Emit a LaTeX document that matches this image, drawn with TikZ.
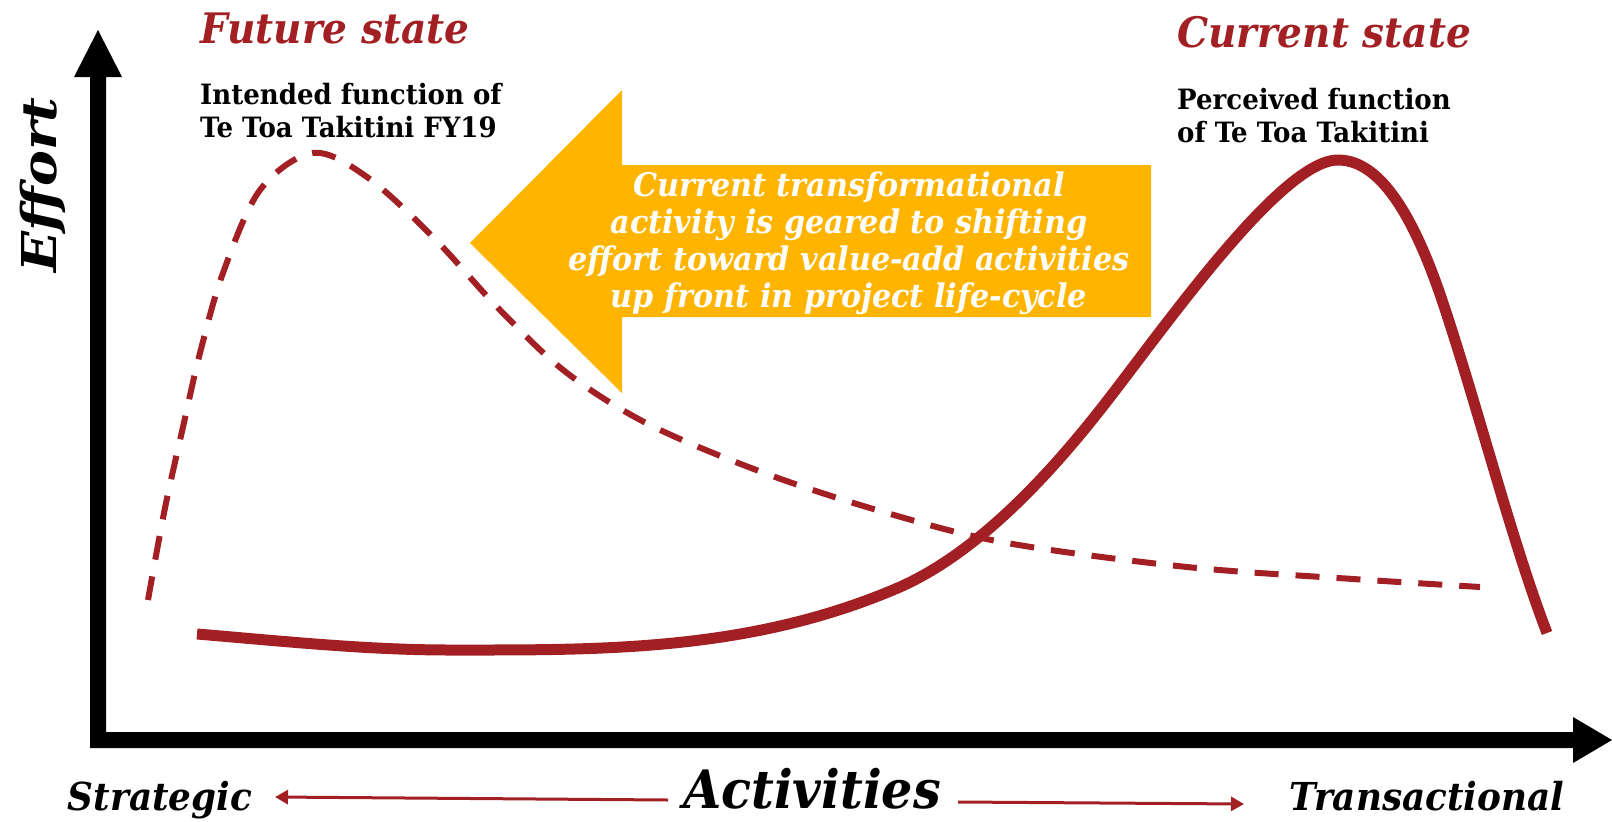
\documentclass[tikz,border=0pt]{standalone}
\usepackage{fontspec}
\setmainfont{DejaVu Serif}[FakeStretch=0.93]
\newfontfamily\widefont{DejaVu Serif}[FakeStretch=1.12]
\usetikzlibrary{arrows.meta}

\definecolor{curvered}{RGB}{162,31,35}
\definecolor{amber}{RGB}{255,181,0}

\tikzset{
  statetitle/.style={anchor=base west, inner sep=0pt, text=curvered,
    font=\fontsize{42}{42}\selectfont\bfseries\itshape},
  caption/.style={anchor=base west, inner sep=0pt, align=left,
    font=\fontsize{28}{33}\selectfont\bfseries},
  axislabel/.style={anchor=base, inner sep=0pt,
    font=\fontsize{38.5}{38.5}\selectfont\bfseries\itshape},
  guide/.style={draw=curvered, line width=3pt,
    -{Triangle[length=13pt,width=14pt]}},
  future/.style={draw=curvered, line width=6pt,
    dash pattern=on 24pt off 17pt},
  current/.style={draw=curvered, line width=11pt, line join=round},
}

\begin{document}
\begin{tikzpicture}[x=1pt, y=-1pt]
  \useasboundingbox (0,0) rectangle (1612,822);

  % axes: one solid block arrow shape for both Effort and Activities
  \fill[black] (90,748) -- (90,77) -- (74,77) -- (98,30) -- (122,77)
    -- (106,77) -- (106,732) -- (1573,732) -- (1573,717) -- (1612,740)
    -- (1573,763) -- (1573,748) -- cycle;

  % shift arrow pointing back toward the strategic end
  \fill[amber] (470,243) -- (622,90) -- (622,165) -- (1151,165)
    -- (1151,317) -- (622,317) -- (622,393) -- cycle;
  \node[align=center, text=white, inner sep=0pt,
        font=\fontsize{32.5}{37}\selectfont\bfseries\itshape]
    (shift) at (849,243)
    {Current transformational\\activity is geared to shifting\\
     effort toward value-add activities\\up front in project life-cycle};

  % intended effort profile
  \draw[future] plot[smooth, tension=0.55] coordinates {
    (148,600) (165,508) (183,427) (200,353) (223,273) (260,190)
    (313,153) (367,177) (433,237) (500,310) (567,373) (650,425)
    (767,474) (887,513) (1007,543) (1187,567) (1353,579) (1480,587)};

  % perceived effort profile
  \draw[current] (197,634) .. controls (281,641) and (366,650) .. (450,650)
    .. controls (600,650) and (750,652) .. (900,587)
    .. controls (967,557) and (1033,495) .. (1100,410)
    .. controls (1160,334) and (1280,160) .. (1338,160)
    .. controls (1373,160) and (1408,198) .. (1443,303)
    .. controls (1478,408) and (1512,542) .. (1547,633);

  % titles and captions
  \node[statetitle] (futuretitle) at (200,43) {Future state};
  \node[caption] (futurecap) at (200,137)
    {Intended function of\\Te Toa Takitini FY19};
  \node[statetitle] (currenttitle) at (1177,47) {Current state};
  \node[caption] (currentcap) at (1177,142)
    {Perceived function\\of Te Toa Takitini};

  % axis labels
  \node[anchor=base, inner sep=0pt, rotate=90,
        font=\fontsize{48}{48}\widefont\bfseries\itshape]
    (effort) at (56,185) {Effort};
  \node[axislabel] (strat) at (160,810) {Strategic};
  \node[axislabel] (trans) at (1427,810) {Transactional};
  \node[anchor=base, inner sep=0pt,
        font=\fontsize{53}{53}\selectfont\bfseries\itshape]
    (act) at (812,808) {Activities};

  \coordinate (stratTip) at (275,797);
  \coordinate (leftStart) at (668,800);
  \coordinate (rightStart) at (958,802);
  \coordinate (transTip) at (1244,804);
  \draw[guide] (leftStart) -- (stratTip);
  \draw[guide] (rightStart) -- (transTip);
\end{tikzpicture}
\end{document}
